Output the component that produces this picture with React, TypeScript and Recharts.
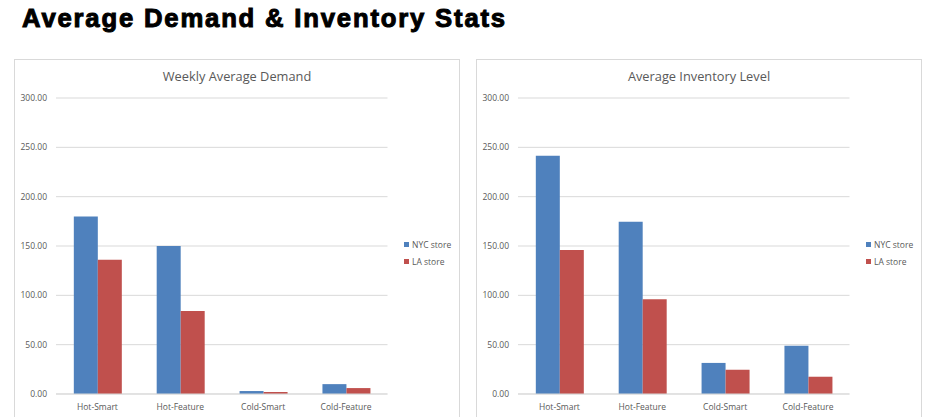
import React from 'react';
import { BarChart, Bar, XAxis, YAxis, CartesianGrid, Legend } from 'recharts';

const categories = ['Hot-Smart', 'Hot-Feature', 'Cold-Smart', 'Cold-Feature'];
const demandNYC = [180, 150, 3, 10];
const demandLA = [136, 84, 2, 6];
const inventoryNYC = [241.5, 174.5, 31.5, 49];
const inventoryLA = [146, 96, 24.5, 17.5];
const yTicks = [0, 50, 100, 150, 200, 250, 300];
const seriesNames = ['NYC store', 'LA store'];
const seriesColors = ['#4f81bd', '#c0504d'];

const FONT = '"Open Sans", sans-serif';
const TEXT = '#595959';
const GRID = '#d9d9d9';

function buildRows(a: number[], b: number[]) {
  return categories.map((c, i) => ({ name: c, nyc: a[i], la: b[i] }));
}

const renderLegend = (props: any) => {
  const payload = [...(props.payload || [])].sort(
    (p: any, q: any) => seriesNames.indexOf(p.value) - seriesNames.indexOf(q.value)
  );
  return (
    <div style={{ fontFamily: FONT, fontSize: 8.5, color: TEXT }}>
      {payload.map((p: any, i: number) => (
        <div key={i} style={{ display: 'flex', alignItems: 'center', height: 17 }}>
          <span style={{ display: 'inline-block', width: 5, height: 5, background: p.color, marginRight: 3 }} />
          <span>{p.value}</span>
        </div>
      ))}
    </div>
  );
};

function Panel({ left, title, a, b }: { left: number; title: string; a: number[]; b: number[] }) {
  const rows = buildRows(a, b);
  return (
    <>
      <div
        style={{
          position: 'absolute',
          left,
          top: 59,
          width: 446,
          height: 380,
          boxSizing: 'border-box',
          border: `1px solid ${GRID}`,
        }}
      />
      <div
        style={{
          position: 'absolute',
          left,
          top: 67,
          width: 446,
          textAlign: 'center',
          fontFamily: FONT,
          fontSize: 12.8,
          color: TEXT,
        }}
      >
        {title}
      </div>
      <div style={{ position: 'absolute', left, top: 59 }}>
        <BarChart
          width={445}
          height={358}
          data={rows}
          margin={{ top: 39, right: 71.5, bottom: 1, left: 0 }}
          barCategoryGap="21.5%"
          barGap={0}
        >
          <CartesianGrid vertical={false} stroke={GRID} strokeWidth={1} />
          <XAxis
            dataKey="name"
            height={22}
            tickSize={0}
            tickMargin={9.5}
            axisLine={{ stroke: GRID }}
            tickLine={false}
            tick={{ fontFamily: FONT, fontSize: 8.5, fill: TEXT }}
            interval={0}
          />
          <YAxis
            width={42}
            domain={[0, 300]}
            ticks={yTicks}
            tickSize={0}
            tickMargin={9}
            axisLine={false}
            tickLine={false}
            tickFormatter={(v: number) => v.toFixed(2)}
            tick={{ fontFamily: FONT, fontSize: 8.5, fill: TEXT }}
          />
          <Legend
            layout="vertical"
            align="center"
            verticalAlign="middle"
            content={renderLegend}
            wrapperStyle={{ left: 390, top: 177, width: 60, height: 34 }}
          />
          <Bar dataKey="nyc" name={seriesNames[0]} fill={seriesColors[0]} isAnimationActive={false} />
          <Bar dataKey="la" name={seriesNames[1]} fill={seriesColors[1]} isAnimationActive={false} />
        </BarChart>
      </div>
    </>
  );
}

export default function App() {
  return (
    <div style={{ position: 'absolute', left: 0, top: 0, width: 934, height: 417, background: '#fff', overflow: 'hidden' }}>
      <div
        style={{
          position: 'absolute',
          left: 22,
          top: 4,
          fontFamily: '"Liberation Sans", Arial, sans-serif',
          fontWeight: 'bold',
          fontSize: 25.7,
          letterSpacing: '1.8px',
          color: '#000',
          whiteSpace: 'nowrap',
          WebkitTextStroke: '1px #000',
        }}
      >
        Average Demand &amp; Inventory Stats
      </div>
      <Panel left={14} title="Weekly Average Demand" a={demandNYC} b={demandLA} />
      <Panel left={476} title="Average Inventory Level" a={inventoryNYC} b={inventoryLA} />
    </div>
  );
}
